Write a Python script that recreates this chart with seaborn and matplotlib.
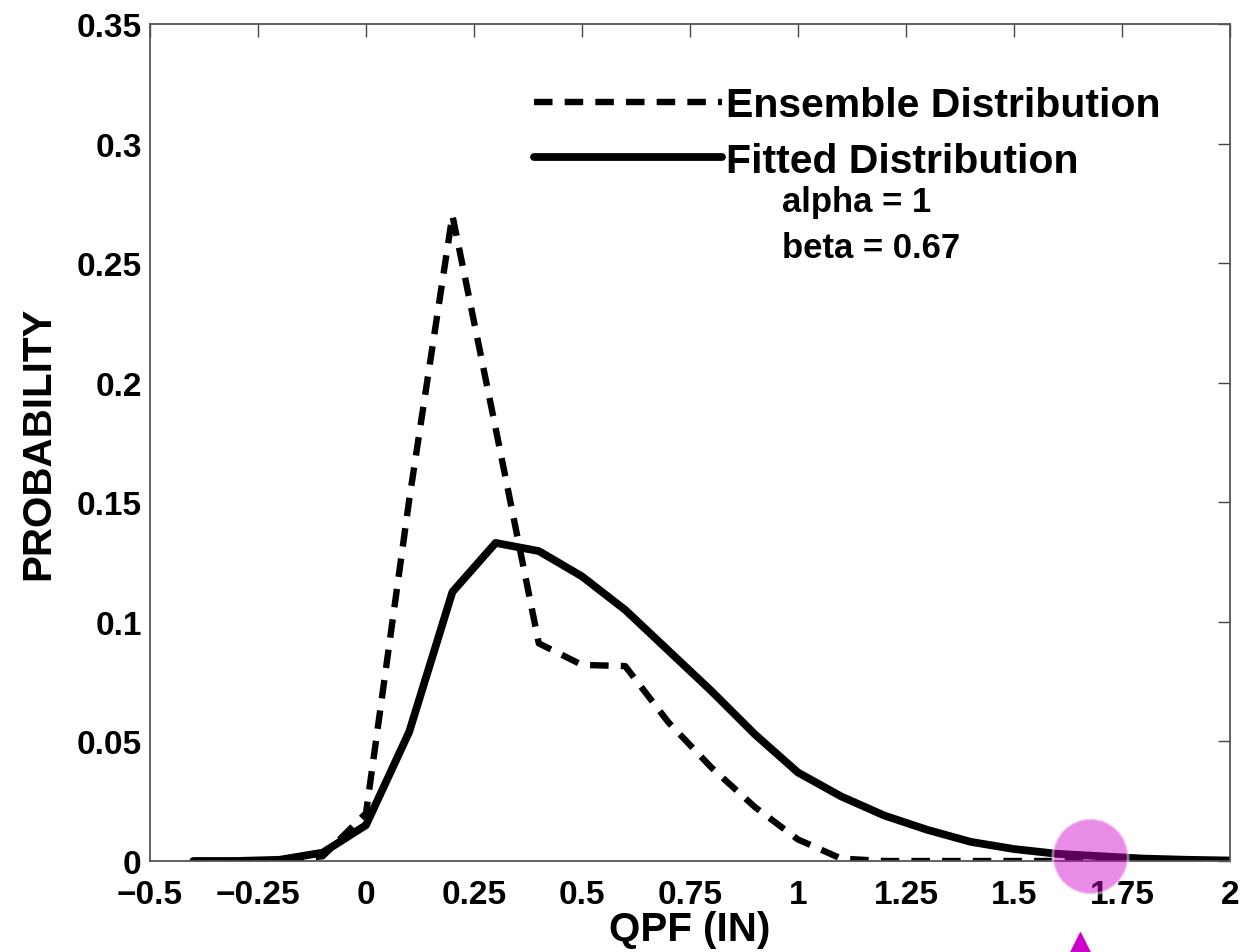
import matplotlib
matplotlib.use("Agg")
import matplotlib.pyplot as plt
import numpy as np
import pandas as pd
import seaborn as sns

# QPF bins (inches) and the two probability curves
qpf = [-0.4, -0.3, -0.2, -0.1, 0.0, 0.1, 0.2, 0.3, 0.4, 0.5, 0.6, 0.7, 0.8,
       0.9, 1.0, 1.1, 1.2, 1.3, 1.4, 1.5, 1.6, 1.7, 1.8, 1.9, 2.0]
ensemble = [0.0, 0.0, 0.0, 0.002, 0.02, 0.151, 0.27, 0.181, 0.091, 0.082,
            0.0815, 0.058, 0.039, 0.0226, 0.009, 0.001, 0.0, 0.0, 0.0, 0.0,
            0.0, 0.0, 0.0, 0.0, 0.0]
fitted = [0.0, 0.0, 0.0005, 0.0035, 0.015, 0.054, 0.1125, 0.133, 0.1296,
          0.119, 0.105, 0.088, 0.071, 0.053, 0.037, 0.027, 0.019, 0.013,
          0.008, 0.005, 0.003, 0.002, 0.001, 0.0005, 0.0002]
x_ticks = [-0.5, -0.25, 0, 0.25, 0.5, 0.75, 1, 1.25, 1.5, 1.75, 2]
x_labels = ["\u22120.5", "\u22120.25", "0", "0.25", "0.5", "0.75", "1", "1.25", "1.5", "1.75", "2"]
y_ticks = [0, 0.05, 0.1, 0.15, 0.2, 0.25, 0.3, 0.35]
y_labels = ["0", "0.05", "0.1", "0.15", "0.2", "0.25", "0.3", "0.35"]
params = ["alpha = 1", "beta = 0.67"]
marker_x = 1.676  # highlighted point on the fitted curve

sns.set_style("white")
plt.rcParams["font.family"] = ["Liberation Sans", "DejaVu Sans"]
plt.rcParams["font.weight"] = "bold"
plt.rcParams["text.color"] = "black"
plt.rcParams["axes.labelcolor"] = "black"

df = pd.DataFrame({"qpf": qpf, "ensemble": ensemble, "fitted": fitted})

fig = plt.figure(figsize=(12.44, 9.53), dpi=100)
ax = fig.add_axes([0.1206, 0.0955, 0.8681, 0.8783])

sns.lineplot(data=df, x="qpf", y="ensemble", ax=ax, color="black", lw=4.6,
             linestyle=(0, (2.9, 1.9)), label="Ensemble Distribution")
sns.lineplot(data=df, x="qpf", y="fitted", ax=ax, color="black", lw=5.6,
             label="Fitted Distribution")

ax.set_xlim(-0.5, 2)
ax.set_ylim(0, 0.35)
ax.set_xticks(x_ticks)
ax.set_xticklabels(x_labels)
ax.set_yticks(y_ticks)
ax.set_yticklabels(y_labels)
ax.tick_params(direction="in", length=9, width=1, top=True, right=True,
               labelsize=24, pad=6, colors="#444444", labelcolor="black")
ax.tick_params(axis="x", pad=13)
for lbl in ax.get_xticklabels() + ax.get_yticklabels():
    lbl.set_fontweight("bold")
for sp in ax.spines.values():
    sp.set_color("#555555")
    sp.set_linewidth(1.3)

ax.set_xlabel("QPF (IN)", fontsize=29, fontweight="bold", labelpad=0)
ax.set_ylabel("PROBABILITY", fontsize=29, fontweight="bold", labelpad=14)

leg = ax.legend(loc="upper left", bbox_to_anchor=(0.34, 0.945), frameon=False,
                fontsize=29.5, handlelength=4.6, handletextpad=0.1,
                labelspacing=0.42, borderaxespad=0)
for t in leg.get_texts():
    t.set_fontweight("bold")

ax.text(0.585, 0.788, params[0], transform=ax.transAxes, fontsize=25,
        fontweight="bold", va="center")
ax.text(0.585, 0.733, params[1], transform=ax.transAxes, fontsize=25,
        fontweight="bold", va="center")

# magenta highlight marker
marker_y = float(np.interp(marker_x, qpf, fitted))
ax.scatter([marker_x], [marker_y], s=2950, color="#cc00cc", alpha=0.45,
           edgecolors="white", linewidths=2, zorder=5, clip_on=False)
ax.scatter([marker_x - 0.023], [-0.038], s=800, marker="^", color="#cc00cc",
           zorder=5, clip_on=False)

fig.savefig("out.png", dpi=100)
